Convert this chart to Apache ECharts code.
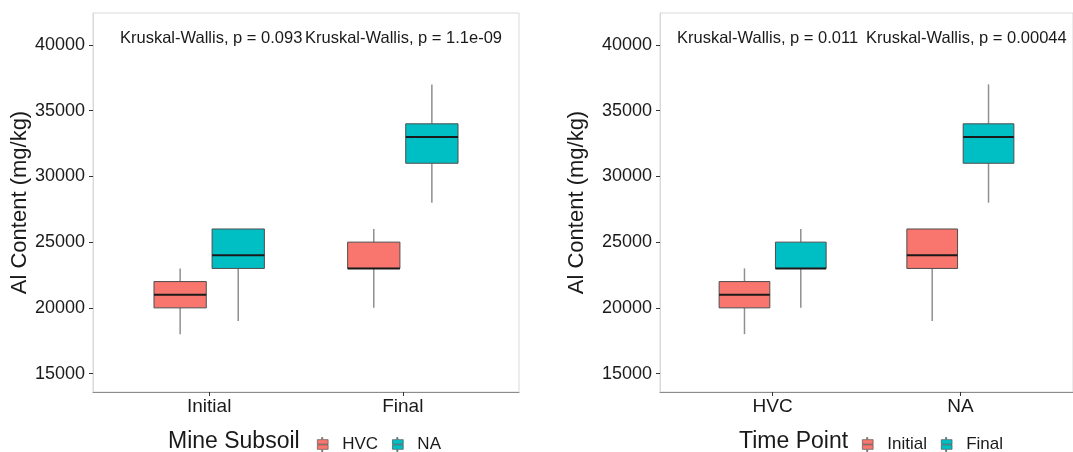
<!DOCTYPE html>
<html>
<head>
<meta charset="utf-8">
<script src="https://cdn.jsdelivr.net/npm/echarts@6/dist/echarts.min.js"></script>
<style>
  html, body { margin: 0; padding: 0; background: #fff; }
  #chart { width: 1073px; height: 452px; }
</style>
</head>
<body>
<div id="chart"></div>
<script>
var FONT = "'Liberation Sans', Arial, sans-serif";

// x categories of each panel
var subsoilCats = ['Initial', 'Final'];
var siteCats = ['HVC', 'NA'];

// box stats: [min, Q1, median, Q3, max] in mg/kg
var hvcInitial = [18000, 20000, 21000, 22000, 23000];
var hvcFinal = [20000, 23000, 23000, 25000, 26000];
var naInitial = [19000, 23000, 24000, 26000, 26000];
var naFinal = [28000, 31000, 33000, 34000, 37000];

var yTicks = [15000, 20000, 25000, 30000, 35000, 40000];

var pLeft = ['Kruskal-Wallis, p = 0.093', 'Kruskal-Wallis, p = 1.1e-09'];
var pRight = ['Kruskal-Wallis, p = 0.011', 'Kruskal-Wallis, p = 0.00044'];

var RED = '#F8766D', TEAL = '#00BFC4';
var DODGE = 0.15, HALF = 0.135;

// put a stats list at category position i (1-based) with a dodge shift
function place(statsList, shift) {
    return statsList.map(function (s, i) {
        return [i + 1 + shift].concat(s);
    });
}

function renderBox(params, api) {
    var x = api.value(0);
    var lo = api.coord([x - HALF, api.value(2)]);
    var hi = api.coord([x + HALF, api.value(4)]);
    var mid = api.coord([x, api.value(3)]);
    var pMin = api.coord([x, api.value(1)]);
    var pMax = api.coord([x, api.value(5)]);
    var whisker = { stroke: '#8f8f8f', lineWidth: 1.5 };
    return {
        type: 'group',
        children: [
            { type: 'line', shape: { x1: pMin[0], y1: pMin[1], x2: pMin[0], y2: lo[1] }, style: whisker },
            { type: 'line', shape: { x1: pMax[0], y1: hi[1], x2: pMax[0], y2: pMax[1] }, style: whisker },
            { type: 'rect', shape: { x: lo[0], y: hi[1], width: hi[0] - lo[0], height: lo[1] - hi[1] },
              style: { fill: api.visual('color'), stroke: '#4d4d4d', lineWidth: 1 } },
            { type: 'line', shape: { x1: lo[0], y1: mid[1], x2: hi[0], y2: mid[1] },
              style: { stroke: '#1a1a1a', lineWidth: 2 } }
        ]
    };
}

function boxSeries(name, idx, color, data) {
    return {
        name: name,
        type: 'custom',
        xAxisIndex: idx,
        yAxisIndex: idx,
        itemStyle: { color: color },
        encode: { x: 0, y: [1, 2, 3, 4, 5] },
        renderItem: renderBox,
        data: data
    };
}

function xAxisFor(idx, cats) {
    return {
        type: 'value', gridIndex: idx, min: 0.4, max: 2.6,
        splitLine: { show: false },
        axisLine: { show: true, lineStyle: { color: '#8c8c8c', width: 1 } },
        axisTick: { show: true, customValues: [1, 2], length: 4, lineStyle: { color: '#333' } },
        axisLabel: {
            customValues: [1, 2], margin: 5,
            formatter: function (v) { return cats[Math.round(v) - 1]; },
            fontFamily: FONT, fontSize: 19, color: '#1a1a1a'
        }
    };
}

function yAxisFor(idx, gap) {
    return {
        type: 'value', gridIndex: idx, min: 13600, max: 42430,
        name: 'Al Content (mg/kg)', nameLocation: 'middle', nameGap: gap,
        nameTextStyle: { fontFamily: FONT, fontSize: 22, color: '#1a1a1a' },
        splitLine: { show: false },
        axisLine: { show: true, lineStyle: { color: '#d9d9d9' } },
        axisTick: { show: true, customValues: yTicks, length: 4, lineStyle: { color: '#333' } },
        axisLabel: {
            customValues: yTicks, margin: 8,
            formatter: function (v) { return String(v); },
            fontFamily: FONT, fontSize: 18, color: '#1a1a1a'
        }
    };
}

var ICON = 'path://M4,0L5,0L5,2L10,2L10,6.2L0,6.2L0,2L4,2Z M0,6.8L10,6.8L10,11L5,11L5,13L4,13L4,11L0,11Z';

function legendFor(names, left) {
    return {
        data: names, left: left, top: 436, padding: 0,
        itemWidth: 11, itemHeight: 14, itemGap: 14, icon: ICON,
        itemStyle: { borderColor: '#555', borderWidth: 0.7 },
        textStyle: { fontFamily: FONT, fontSize: 17, color: '#1a1a1a', padding: [0, 0, 0, 9] },
        selectedMode: false
    };
}

function label(text, x, y, size) {
    return {
        type: 'text', left: x, top: y,
        style: { text: text, fontFamily: FONT, fontSize: size, fill: '#1a1a1a', textVerticalAlign: 'middle' }
    };
}

var chart = echarts.init(document.getElementById('chart'));

var option = {
    animation: false,
    backgroundColor: '#ffffff',
    grid: [
        { left: 93, top: 13, width: 426, height: 379, show: true, borderColor: '#d9d9d9', borderWidth: 1 },
        { left: 660, top: 13, width: 425, height: 379, show: true, borderColor: '#d9d9d9', borderWidth: 1 }
    ],
    xAxis: [xAxisFor(0, subsoilCats), xAxisFor(1, siteCats)],
    yAxis: [yAxisFor(0, 62), yAxisFor(1, 72)],
    legend: [legendFor(['HVC', 'NA'], 317), legendFor(['Initial', 'Final'], 862)],
    graphic: [
        label(pLeft[0], 120, 30, 16.5),
        label(pLeft[1], 305, 30, 16.5),
        label(pRight[0], 677, 30, 16.5),
        label(pRight[1], 866, 30, 16.5),
        label('Mine Subsoil', 168, 430, 23),
        label('Time Point', 739, 430, 23)
    ],
    series: [
        boxSeries('HVC', 0, RED, place([hvcInitial, hvcFinal], -DODGE)),
        boxSeries('NA', 0, TEAL, place([naInitial, naFinal], DODGE)),
        boxSeries('Initial', 1, RED, place([hvcInitial, naInitial], -DODGE)),
        boxSeries('Final', 1, TEAL, place([hvcFinal, naFinal], DODGE))
    ]
};

chart.setOption(option);
</script>
</body>
</html>
